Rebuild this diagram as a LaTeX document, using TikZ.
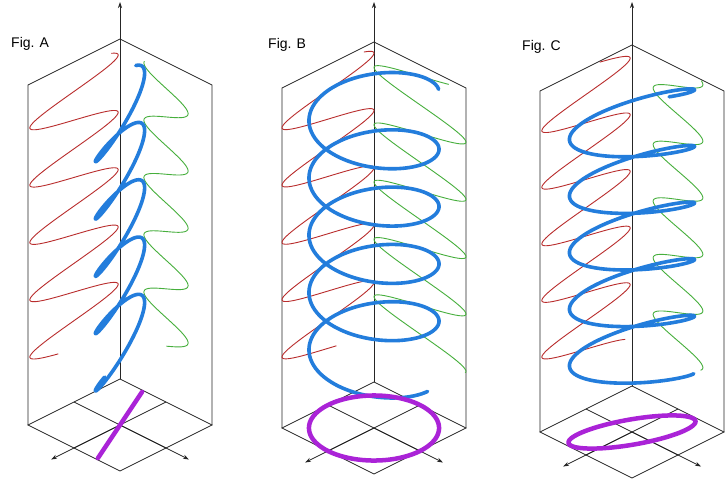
\documentclass[tikz,border=0pt]{standalone}
\usepackage{fontspec}
\setmainfont{Liberation Sans}
\usetikzlibrary{arrows.meta}
\definecolor{wred}{RGB}{185,45,45}
\definecolor{wgreen}{RGB}{70,175,60}
\definecolor{wblue}{RGB}{35,125,220}
\definecolor{wpurp}{RGB}{170,35,215}
\tikzset{
 boxline/.style={black!85,line width=0.7pt},
 axisarrow/.style={boxline,-{Stealth[length=6pt,width=4pt]}},
 redw/.style={wred,line width=0.9pt,line join=round},
 greenw/.style={wgreen,line width=0.9pt,line join=round},
 bluew/.style={wblue,line width=3.6pt,line cap=round,line join=round},
 purp/.style={wpurp,line width=4.5pt,line cap=round,line join=round},
 lbl/.style={font=\fontsize{14}{14}\selectfont,anchor=west,inner sep=0pt}
}
\newcommand\polbox[3]{%
 \draw[boxline] (#1-46,#2-23) -- (#1+46,#2+23);
 \draw[boxline] (#1+46,#2-23) -- (#1-46,#2+23);
 \draw[boxline] (#1-92,#2) -- (#1,#2-46) -- (#1+92,#2) -- (#1,#2+46) -- cycle;
 \draw[axisarrow] (#1,#2) -- (#1+69,#2+34.5);
 \draw[axisarrow] (#1,#2) -- (#1-69,#2+34.5);
 \draw[boxline] (#1-92,#2) -- (#1-92,#2-#3) -- (#1,#2-46-#3) -- (#1+92,#2-#3) -- (#1+92,#2);
 \draw[axisarrow] (#1,#2-46) -- (#1,2);
}
\newcommand\polwave[9]{%
 \draw[redw] plot[domain=#8:#9,samples=400,smooth] ({#1-46-46*#3*cos(((\x-#5)/#7)*360)},{#2-23+23*#3*cos(((\x-#5)/#7)*360)-\x});
 \draw[greenw] plot[domain=#8:#9,samples=400,smooth] ({#1+46+46*#4*cos(((\x-#5)/#7)*360-#6)},{#2-23+23*#4*cos(((\x-#5)/#7)*360-#6)-\x});
 \draw[bluew] plot[domain=#8:#9,samples=400,smooth] ({#1-46*#3*cos(((\x-#5)/#7)*360)+46*#4*cos(((\x-#5)/#7)*360-#6)},{#2+23*(#3*cos(((\x-#5)/#7)*360)+#4*cos(((\x-#5)/#7)*360-#6))-\x});
}
\newcommand\polfloor[5]{%
 \draw[purp] plot[domain=0:360,samples=120,smooth] ({#1-46*#3*cos(\x)+46*#4*cos(\x-#5)},{#2+23*(#3*cos(\x)+#4*cos(\x-#5))});
}
\begin{document}
\begin{tikzpicture}[x=1pt,y=-1pt]
\useasboundingbox (0,0) rectangle (725,480);
\fill[white] (0,0) rectangle (725,480);
\polbox{120}{425}{340}
\polwave{120}{425}{0.96}{0.48}{67}{20}{57.3}{56}{330}
\polfloor{120}{425}{0.96}{0.48}{0}
\node[lbl] (la) at (11,44) {Fig. A};
\polbox{374}{428}{340}
\polwave{374}{428}{1}{1}{71}{-90}{57.3}{55}{335}
\polfloor{374}{428}{1}{1}{-90}
\node[lbl] (lb) at (268,45) {Fig. B};
\polbox{632}{432}{341}
\polwave{632}{432}{0.96}{0.54}{74}{232}{56.6}{50}{340}
\polfloor{632}{432}{0.96}{0.54}{228}
\node[lbl] (lc) at (522,47) {Fig. C};
\end{tikzpicture}
\end{document}
